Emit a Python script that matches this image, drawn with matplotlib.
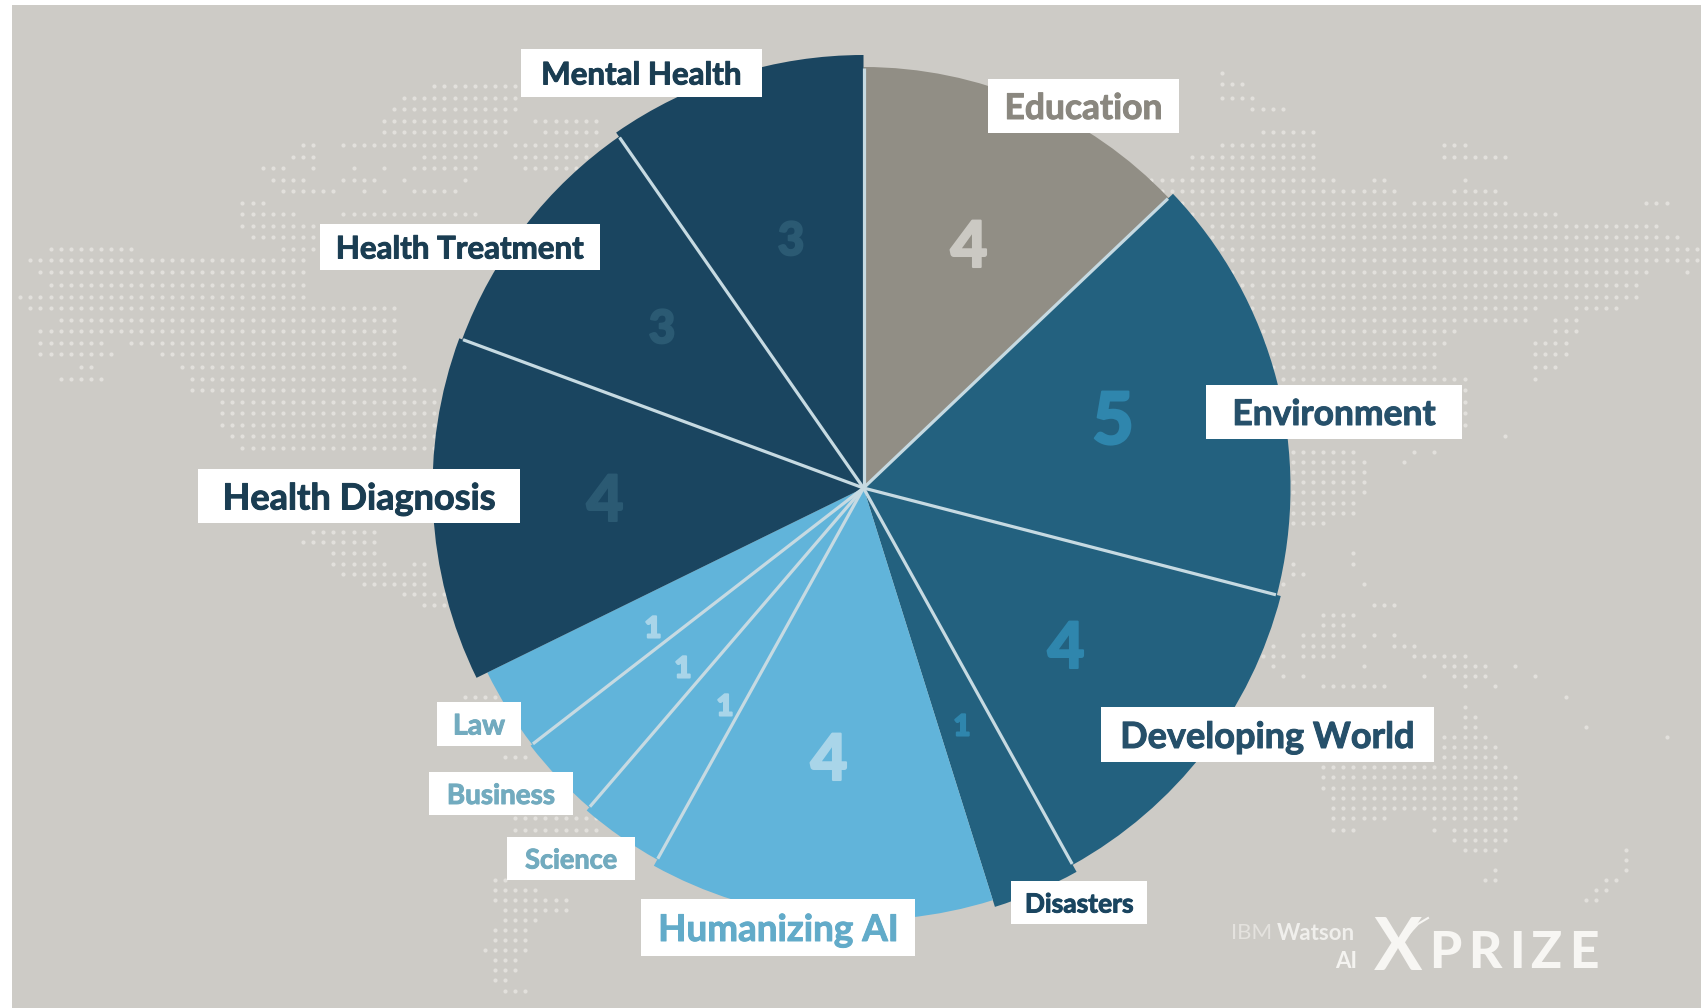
#!/usr/bin/env python
import numpy as np
import matplotlib
matplotlib.use('Agg')
import matplotlib.pyplot as plt
import matplotlib.patheffects as pe
from matplotlib.patches import Rectangle

plt.rcParams['font.family'] = ['Lato', 'DejaVu Sans']

# clockwise from 12 o'clock
categories = ['Education', 'Environment', 'Developing World', 'Disasters', 'Humanizing AI',
              'Science', 'Business', 'Law', 'Health Diagnosis', 'Health Treatment', 'Mental Health']
values = [4, 5, 4, 1, 4, 1, 1, 1, 4, 3, 3]
colors = ['#918e85', '#23617f', '#23617f', '#23617f', '#61b4da',
          '#61b4da', '#61b4da', '#61b4da', '#1a4560', '#1a4560', '#1a4560']
radii = [421, 427, 431, 439, 432, 425, 421, 419, 431, 428, 433]
# wedges that have a thin light line after them
line_after = [True, True, True, False, True, True, True, False, True, True, True]

# label box (x0, y0, x1, y1), font size, text colour
label_style = {
    'Education': ((988, 79, 1179, 133), 25.5, '#8a877f'),
    'Environment': ((1206, 385, 1462, 439), 25.5, '#26506a'),
    'Developing World': ((1101, 707, 1434, 762), 26, '#26506a'),
    'Disasters': ((1011, 881, 1147, 924), 19, '#1a4560'),
    'Humanizing AI': ((641, 899, 915, 956), 26.5, '#62abc9'),
    'Science': ((507, 837, 635, 880), 19.5, '#72abbf'),
    'Business': ((429, 772, 573, 815), 20, '#72abbf'),
    'Law': ((437, 702, 521, 746), 20.5, '#72abbf'),
    'Health Diagnosis': ((198, 469, 520, 523), 26, '#1a3d52'),
    'Health Treatment': ((320, 224, 600, 270), 22.5, '#1a3d52'),
    'Mental Health': ((521, 49, 762, 97), 22.5, '#1a3d52'),
}
# number position (x, y), font size, colour
number_style = {
    'Education': ((969, 243), 46, '#cbc9c3'),
    'Environment': ((1113, 417), 52, '#2f86ad'),
    'Developing World': ((1066, 644), 46, '#2f86ad'),
    'Disasters': ((962, 725), 21, '#2f86ad'),
    'Humanizing AI': ((829, 756), 46, '#a9d5e9'),
    'Science': ((725, 705), 21, '#a9d5e9'),
    'Business': ((683, 667), 21, '#a9d5e9'),
    'Law': ((653, 627), 21, '#a9d5e9'),
    'Health Diagnosis': ((605, 497), 46, '#2b5a73'),
    'Health Treatment': ((662, 326), 33, '#2b5a73'),
    'Mental Health': ((791, 238), 33, '#2b5a73'),
}

# background dot map: row y, then x spans
map_rows = [
    (73, [(1226, 1226)]), (84, [(1219, 1238)]), (86, [(436, 520)]), (98, [(406, 520), (1226, 1249)]),
    (109, [(398, 513), (1257, 1280)]), (121, [(387, 509), (532, 600)]),
    (132, [(387, 501), (543, 600), (1265, 1310)]),
    (145, [(302, 314), (348, 383), (398, 490), (513, 600), (1226, 1318), (1444, 1464)]),
    (157, [(291, 314), (425, 471), (513, 600), (1188, 1318), (1444, 1505)]),
    (168, [(260, 283), (318, 318), (356, 356), (387, 387), (417, 471), (524, 600), (1188, 1318)]),
    (180, [(268, 306), (348, 371), (406, 406), (467, 467), (1150, 1337), (1375, 1387), (1464, 1464)]),
    (191, [(279, 333), (367, 367), (387, 387), (417, 459), (1138, 1398), (1452, 1490)]),
    (203, [(241, 260), (1157, 1398), (1414, 1505), (1651, 1662)]),
    (214, [(241, 295), (340, 478), (1176, 1555)]),
    (226, [(241, 333), (356, 387), (417, 490), (1207, 1655)]),
    (237, [(249, 340), (387, 398), (425, 513), (1207, 1674)]),
    (249, [(50, 134), (279, 352), (387, 398), (436, 520), (1207, 1695)]),
    (260, [(30, 306), (1211, 1655), (1670, 1695)]),
    (272, [(38, 306), (1222, 1643), (1690, 1690)]),
    (285, [(50, 306), (1226, 1640)]),
    (297, [(20, 306), (1234, 1636)]),
    (308, [(30, 398), (1234, 1536), (1578, 1617)]),
    (320, [(61, 398), (1245, 1525), (1552, 1575)]),
    (331, [(42, 398), (1253, 1456), (1552, 1575)]),
    (343, [(42, 103), (130, 390), (1260, 1448), (1540, 1567)]),
    (354, [(38, 107), (160, 390), (1265, 1437), (1533, 1567)]),
    (367, [(80, 92), (180, 405), (1265, 1437), (1540, 1555)]),
    (379, [(65, 96), (187, 413), (1265, 1464), (1540, 1540)]),
    (390, [(187, 432), (1268, 1464)]), (402, [(218, 444), (1268, 1464)]),
    (413, [(226, 444), (1276, 1464)]), (425, [(226, 444), (1276, 1464)]),
    (436, [(230, 444), (1291, 1437), (1503, 1503)]), (448, [(241, 448)]),
    (452, [(1293, 1350), (1415, 1415), (1435, 1435)]), (462, [(1293, 1360), (1405, 1405)]),
    (472, [(1293, 1360)]), (482, [(1293, 1360)]), (492, [(1293, 1360)]),
    (503, [(1293, 1350)]), (513, [(1293, 1340), (1355, 1355)]), (523, [(1293, 1320)]),
    (532, [(313, 370)]), (542, [(308, 372)]), (553, [(336, 372), (1355, 1355)]),
    (564, [(336, 380), (415, 420), (1293, 1293), (1355, 1355)]),
    (574, [(346, 420), (1290, 1298)]), (584, [(367, 420), (1285, 1285), (1365, 1365)]),
    (594, [(405, 440)]), (605, [(425, 440), (1375, 1390)]),
    (615, [(1325, 1350)]), (625, [(1325, 1340)]),
    (635, [(1305, 1350), (1375, 1375), (1395, 1395)]),
    (646, [(1270, 1270), (1305, 1340), (1365, 1365), (1395, 1415)]),
    (656, [(1265, 1280), (1305, 1330), (1415, 1460)]),
    (666, [(1275, 1275), (1365, 1365), (1445, 1485), (1515, 1515)]),
    (676, [(1285, 1285), (1305, 1305), (1425, 1425), (1455, 1485), (1535, 1535)]),
    (686, [(1325, 1370), (1385, 1385), (1465, 1465), (1495, 1495)]),
    (697, [(465, 490), (1565, 1565)]), (707, [(1465, 1465)]), (717, [(1465, 1475)]),
    (727, [(1465, 1475), (1590, 1590)]), (737, [(1440, 1485), (1665, 1665)]),
    (747, [(1440, 1495)]), (757, [(505, 530), (1440, 1495)]),
    (767, [(1325, 1505)]), (777, [(1325, 1515)]), (788, [(1325, 1515)]),
    (798, [(1335, 1515)]), (808, [(1335, 1515)]),
    (818, [(515, 600), (1335, 1380), (1435, 1515)]),
    (830, [(515, 600), (1335, 1350), (1435, 1435), (1455, 1505)]),
    (840, [(1455, 1505)]), (850, [(1465, 1495), (1630, 1630)]), (860, [(1630, 1630)]),
    (870, [(1490, 1490), (1630, 1630)]),
    (880, [(497, 500), (1485, 1495), (1610, 1620)]),
    (890, [(497, 540), (1600, 1610)]), (900, [(497, 570), (1590, 1600)]),
    (910, [(505, 570)]), (920, [(505, 540)]), (930, [(490, 530)]), (940, [(490, 530)]),
    (950, [(485, 530)]), (960, [(490, 520)]), (970, [(490, 515)]), (980, [(490, 510)]),
    (991, [(505, 530)]),
]

prize_letters = ['P', 'R', 'I', 'Z', 'E']
prize_x = [1445, 1485, 1517, 1546, 1584]

center = (863.5, 488)


def heavy(col, width=0.7):
    # Lato bold is lighter than the original lettering, thicken it a bit
    return [pe.withStroke(linewidth=width, foreground=col)]


fig = plt.figure(figsize=(17.01, 10.08), dpi=100, facecolor='white')
ax = fig.add_axes([0, 0, 1, 1])

ax.add_patch(Rectangle((12, 5), 1701 - 12, 1008 - 5, facecolor='#cdcbc6', edgecolor='none', zorder=0))

# dot map
dot_x, dot_y = [], []
for row_y, spans in map_rows:
    for x0, x1 in spans:
        xs = np.arange(round(x0 / 10.1), round(x1 / 10.1) + 1) * 10.1
        dot_x.extend(xs)
        dot_y.extend([row_y] * len(xs))
ax.scatter(dot_x, dot_y, s=9, color='#e2e0dc', linewidths=0, zorder=1)

# y axis is flipped below, so counterclock + -90 comes out clockwise from the top
wedges, _ = ax.pie(values, colors=colors, startangle=-90, counterclock=True,
                   center=center, radius=430, frame=True)
for w, r in zip(wedges, radii):
    w.set_radius(r)
    w.set_zorder(2)

for i, w in enumerate(wedges):
    if not line_after[i]:
        continue
    r = min(radii[i], radii[(i + 1) % len(radii)]) - 1
    t = np.deg2rad(w.theta2)
    ax.plot([center[0], center[0] + r * np.cos(t)], [center[1], center[1] + r * np.sin(t)],
            color='#c6dae2', lw=2.3, solid_capstyle='butt', zorder=3)

for name in categories:
    (x0, y0, x1, y1), size, col = label_style[name]
    ax.add_patch(Rectangle((x0, y0), x1 - x0, y1 - y0, facecolor='white', edgecolor='none', zorder=4))
    ax.text((x0 + x1) / 2, (y0 + y1) / 2, name, fontsize=size, fontweight='bold', color=col,
            ha='center', va='center_baseline', zorder=5, path_effects=heavy(col))

for name, val in zip(categories, values):
    (x, y), size, col = number_style[name]
    ax.text(x, y, str(val), fontsize=size, fontweight='black', color=col,
            ha='center', va='center_baseline', zorder=5, path_effects=heavy(col, 1.5))

# logo
ax.text(1231, 933, 'IBM', fontsize=16, color='#e4e2de', ha='left', va='center')
ax.text(1277, 933, 'Watson', fontsize=16, color='#f0efec', fontweight='bold', ha='left', va='center')
ax.text(1357, 962, 'AI', fontsize=16, color='#f4f3f0', fontweight='bold', ha='right', va='center')
ax.text(1398, 950, 'X', fontsize=52, color='#f7f6f3', fontweight='bold', ha='center', va='center')
ax.plot([1405, 1418, 1428], [938, 924, 918], color='#f7f6f3', lw=1.5, zorder=5)
for ch, x in zip(prize_letters, prize_x):
    ax.text(x, 953, ch, fontsize=37, color='#f7f6f3', fontweight='black', ha='center', va='center')

ax.set_xlim(0, 1701)
ax.set_ylim(1008, 0)
ax.set_aspect('auto')
ax.axis('off')

fig.savefig('out.png', dpi=100)
